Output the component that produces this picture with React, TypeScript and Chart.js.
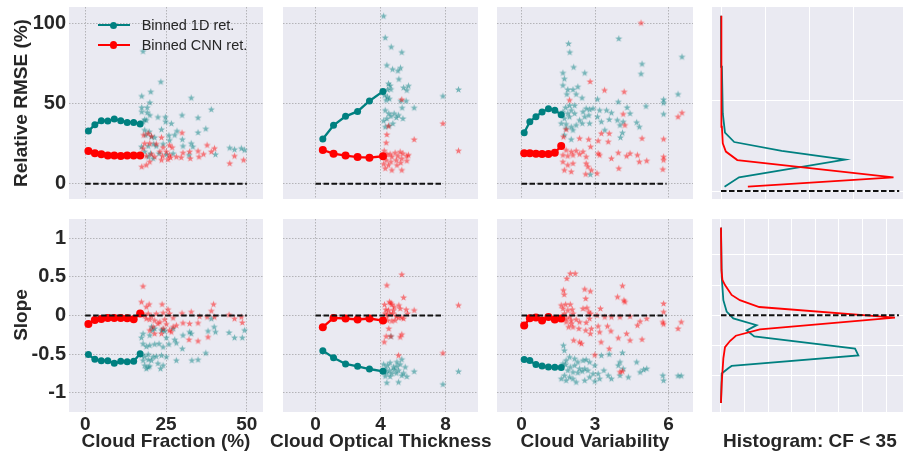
import React, { useEffect, useRef } from "react";
import { Chart, registerables } from "chart.js";
Chart.register(...registerables);

const W = 903;
const H = 452;
const TEAL = "#008080";
const RED = "#ff0000";
const TXT = "#262626";
const FONT = '"Liberation Sans", Arial, sans-serif';

type Pt = [number, number];

// ---------- Binned retrieval curves ----------
const binCF = [1, 3, 5, 7, 9, 11, 13, 15, 17];
const rmse1dCF = [32.8, 36.8, 39.3, 39.1, 40.3, 39.3, 38.2, 38.2, 37.2];
const rmseCnnCF = [20.4, 18.9, 18.3, 17.5, 17.5, 17.2, 17.5, 17.5, 17.5];
const slope1dCF = [-0.506, -0.568, -0.585, -0.585, -0.62, -0.594, -0.598, -0.594, -0.494];
const slopeCnnCF = [-0.109, -0.057, -0.044, -0.031, -0.031, -0.031, -0.035, -0.048, 0.026];

const binCOT = [0.45, 1.11, 1.85, 2.59, 3.32, 4.15];
const rmse1dCOT = [27.9, 36.4, 42.0, 45.1, 51.6, 57.6];
const rmseCnnCOT = [21.0, 18.7, 17.5, 16.6, 16.2, 17.1];
const slope1dCOT = [-0.455, -0.546, -0.628, -0.658, -0.693, -0.723];
const slopeCnnCOT = [-0.152, -0.031, -0.039, -0.052, -0.039, -0.065];

const binCV = [0.11, 0.34, 0.59, 0.84, 1.1, 1.36, 1.62];
const rmse1dCV = [31.8, 38.7, 41.8, 44.7, 46.8, 45.9, 43.0];
const rmseCnnCV = [18.9, 18.9, 18.7, 18.5, 18.5, 19.3, 23.5];
const slope1dCV = [-0.571, -0.584, -0.636, -0.654, -0.667, -0.671, -0.675];
const slopeCnnCV = [-0.13, -0.035, -0.026, -0.065, -0.018, -0.052, -0.039];

// ---------- Individual scenes (stars) ----------
const rmse1dCFPts: Pt[] = [[17.9,82.7],[23.4,63.6],[20.3,57.4],[17.5,54.7],[20.0,50.7],[32.8,53.6],[17.5,47.6],[19.2,47.6],[39.0,46.4],[17.5,44.9],[19.2,44.5],[20.0,42.8],[22.5,41.6],[24.8,41.6],[29.95,42.8],[34.9,41.2],[18.4,40.1],[18.9,39.7],[17.9,38.7],[24.9,38.7],[26.65,37.6],[37.3,34.3],[34.9,32.0],[18.4,33.5],[19.8,32.5],[23.6,33.9],[28.4,32.9],[18.7,30.4],[20.5,29.3],[21.5,28.9],[25.9,30.2],[27.7,30.4],[30.05,27.7],[26.1,27.2],[17.4,23.1],[19.5,23.5],[21.2,24.8],[22.0,23.5],[24.1,24.8],[30.25,23.5],[32.8,25.2],[33.3,23.1],[44.7,22.4],[46.2,21.4],[48.3,22.1],[49.3,21.0],[40.3,18.3],[18.4,20.0],[20.2,18.9],[22.85,18.9],[25.1,18.3],[27.2,18.9],[32.1,17.9],[19.5,16.8],[21.0,15.8]];
const rmseCnnCFPts: Pt[] = [[29.95,31.8],[23.6,28.9],[18.1,30.4],[19.5,31.4],[20.5,29.7],[26.1,24.1],[26.9,22.7],[18.4,25.2],[19.97,25.2],[22.0,24.8],[24.1,22.7],[23.1,20.0],[17.9,22.1],[25.1,20.0],[17.4,17.9],[18.9,17.3],[20.5,18.5],[21.5,16.8],[23.9,17.3],[26.1,17.9],[28.2,16.8],[30.25,19.3],[32.3,20.0],[34.9,20.4],[37.7,24.1],[40.0,22.1],[39.0,20.0],[36.6,18.5],[35.2,16.8],[32.5,15.8],[29.7,16.4],[44.7,12.7],[46.2,17.3],[49.0,14.8],[17.5,10.6],[18.9,11.7],[19.97,13.7],[23.6,14.8],[26.4,16.4],[25.6,15.2]];
const slope1dCFPts: Pt[] = [[20.5,-0.147],[20.8,-0.19],[21.5,-0.168],[23.6,-0.19],[24.1,-0.18],[24.6,-0.2],[27.2,-0.168],[32.3,-0.212],[32.8,-0.234],[30.25,-0.255],[17.9,-0.234],[17.4,-0.286],[19.97,-0.255],[39.0,-0.04],[39.9,-0.147],[38.0,-0.2],[40.3,-0.212],[44.5,-0.22],[49.3,-0.19],[46.2,-0.286],[48.6,-0.286],[27.7,-0.312],[25.1,-0.286],[22.85,-0.365],[19.97,-0.385],[17.9,-0.365],[18.9,-0.4],[21.5,-0.37],[25.9,-0.37],[28.2,-0.355],[24.1,-0.407],[30.05,-0.429],[37.3,-0.485],[17.4,-0.515],[18.4,-0.528],[19.5,-0.502],[21.0,-0.535],[17.9,-0.58],[19.5,-0.572],[20.5,-0.58],[22.0,-0.528],[23.6,-0.515],[25.1,-0.535],[28.2,-0.58],[33.0,-0.58],[34.9,-0.572],[18.4,-0.645],[19.5,-0.667],[19.97,-0.655],[23.3,-0.688],[24.1,-0.645],[22.5,-0.62],[18.9,-0.688]];
const slopeCnnCFPts: Pt[] = [[17.9,0.38],[17.4,0.177],[19.8,0.147],[18.9,0.113],[23.8,0.147],[25.6,0.08],[39.7,0.147],[39.0,0.06],[17.4,0.026],[18.4,0.004],[19.5,0.026],[20.5,-0.01],[22.0,0.026],[24.1,0.035],[26.1,0.026],[29.95,0.03],[32.8,0.048],[35.4,-0.01],[44.5,0.01],[48.3,-0.018],[18.9,-0.04],[19.97,-0.05],[21.5,-0.061],[23.1,-0.083],[24.6,-0.05],[27.2,-0.03],[30.25,-0.096],[32.3,-0.104],[34.9,-0.096],[37.7,-0.018],[40.0,-0.018],[46.2,-0.04],[48.6,-0.09],[21.0,-0.147],[24.1,-0.168],[26.1,-0.19],[27.2,-0.147],[26.65,-0.212],[28.2,-0.126],[32.1,-0.312],[34.9,-0.329],[38.0,-0.277],[22.5,-0.104],[25.1,-0.11],[19.97,-0.19],[21.5,-0.234],[23.6,-0.234]];

const rmse1dCOTPts: Pt[] = [[4.19,104.7],[4.29,91.2],[4.66,85.4],[5.31,82.1],[4.39,74.0],[4.74,71.5],[5.07,70.5],[5.23,72.3],[5.13,65.3],[4.49,62.5],[4.59,61.3],[4.43,58.8],[4.64,59.0],[5.42,60.0],[5.72,61.1],[5.62,58.4],[4.25,55.3],[4.43,54.2],[4.55,53.0],[4.35,52.2],[5.25,51.7],[5.58,51.7],[5.33,47.4],[6.07,47.4],[4.29,45.9],[4.51,43.9],[4.84,43.9],[5.11,42.8],[4.64,42.2],[4.39,40.7],[4.97,41.3],[5.38,40.7],[4.19,39.3],[4.76,37.6],[4.53,36.2],[4.29,35.5],[7.84,54.7],[8.8,58.8]];
const rmseCnnCOTPts: Pt[] = [[5.31,52.6],[7.84,37.6],[4.39,30.7],[4.35,25.6],[6.07,27.6],[8.8,20.6],[4.49,36.0],[4.23,20.6],[4.39,18.5],[4.59,18.5],[4.9,19.3],[5.21,19.9],[5.38,18.9],[4.29,16.8],[4.7,16.8],[5.07,17.3],[5.31,15.8],[5.62,17.3],[4.35,14.7],[4.64,13.7],[4.97,14.7],[5.25,13.1],[5.62,14.3],[4.19,12.3],[4.49,11.6],[5.01,11.6],[4.7,8.5],[5.31,8.5],[4.29,9.6],[5.72,17.9]];
const slope1dCOTPts: Pt[] = [[4.64,-0.268],[5.31,-0.567],[4.19,-0.63],[4.43,-0.645],[4.59,-0.61],[4.8,-0.667],[5.01,-0.655],[5.21,-0.63],[5.52,-0.667],[4.29,-0.688],[4.55,-0.71],[4.84,-0.7],[5.11,-0.71],[5.42,-0.745],[6.07,-0.723],[4.39,-0.74],[4.7,-0.75],[4.97,-0.745],[5.31,-0.775],[5.62,-0.79],[4.29,-0.784],[4.59,-0.79],[5.11,-0.862],[4.39,-0.87],[8.8,-0.723],[7.84,-0.89],[5.01,-0.6]];
const slopeCnnCOTPts: Pt[] = [[5.31,0.532],[4.39,0.393],[5.42,0.234],[4.55,0.177],[4.64,0.164],[4.25,0.143],[4.7,0.143],[4.84,0.112],[5.13,0.134],[5.58,0.078],[6.07,0.069],[4.33,0.078],[4.49,0.069],[4.8,0.069],[5.21,0.091],[5.66,0.026],[4.29,0.026],[4.59,0.02],[4.97,-0.009],[5.31,-0.026],[4.19,-0.039],[4.43,-0.061],[4.7,-0.07],[5.11,-0.026],[5.42,-0.039],[4.39,0.0],[4.76,0.026],[4.9,-0.061],[4.51,-0.169],[4.35,-0.268],[4.64,-0.268],[5.31,-0.243],[5.21,-0.277],[4.23,-0.342],[5.11,-0.515],[7.84,-0.485],[8.8,0.134]];

const rmse1dCVPts: Pt[] = [[1.92,87.5],[1.97,82.1],[3.97,90.6],[6.55,79.2],[2.13,72.8],[2.58,69.2],[1.69,69.2],[1.75,65.5],[2.3,60.5],[1.69,61.5],[1.89,58.8],[2.1,58.8],[1.85,55.9],[2.23,55.9],[2.47,53.6],[4.92,74.8],[4.88,68.6],[6.39,55.9],[5.8,52.6],[5.8,50.5],[5.8,43.5],[3.95,51.1],[5.08,48.4],[4.31,47.6],[4.43,43.9],[3.1,52.8],[1.96,48.9],[2.17,48.9],[1.8,47.6],[2.03,45.9],[2.64,47.0],[2.78,46.4],[2.92,47.0],[3.19,45.9],[3.47,45.9],[3.67,44.3],[1.69,44.9],[1.89,43.9],[2.17,43.9],[2.51,44.9],[1.75,40.8],[1.96,41.8],[2.37,39.7],[2.58,41.8],[2.75,42.8],[3.1,41.8],[3.58,40.1],[3.91,39.7],[4.15,38.7],[4.7,38.3],[4.81,35.5],[1.62,37.7],[1.82,37.2],[2.03,35.5],[2.23,36.6],[2.48,37.7],[2.78,37.7],[3.26,38.7],[1.82,34.5],[2.1,33.5],[3.4,33.5],[4.02,36.6],[4.12,31.8],[1.75,30.4],[2.03,27.7],[4.04,28.9],[2.81,5.8]];
const rmseCnnCVPts: Pt[] = [[4.88,100.4],[2.8,63.8],[3.39,58.4],[4.19,57.4],[1.96,52.2],[1.82,33.9],[1.71,29.3],[2.37,28.3],[2.74,27.7],[3.13,26.8],[3.26,31.4],[3.58,31.4],[3.54,26.2],[2.82,23.1],[4.15,43.5],[4.22,36.6],[6.39,41.8],[6.55,44.3],[4.92,28.3],[5.8,27.9],[1.62,23.1],[1.82,21.0],[2.03,20.0],[2.23,20.6],[2.51,20.0],[1.69,17.9],[1.89,17.3],[2.1,17.9],[2.37,18.5],[2.64,16.8],[3.13,18.9],[3.19,17.9],[3.67,15.8],[3.95,19.3],[4.29,17.3],[4.43,18.9],[4.73,17.9],[4.81,13.7],[5.11,14.3],[5.8,16.8],[5.8,14.8],[1.69,13.7],[1.89,11.7],[2.1,12.7],[1.75,8.5],[2.03,7.5],[2.64,12.7],[2.71,10.6],[2.85,8.5],[2.62,6.0],[3.08,6.5],[3.97,9.6],[5.77,9.0]];
const slope1dCVPts: Pt[] = [[1.71,-0.386],[1.75,-0.451],[1.96,-0.537],[2.17,-0.559],[1.82,-0.58],[2.3,-0.602],[2.51,-0.58],[2.64,-0.57],[2.78,-0.602],[3.26,-0.516],[3.58,-0.5],[4.12,-0.481],[2.99,-0.645],[2.58,-0.688],[2.37,-0.688],[2.17,-0.645],[1.99,-0.667],[1.8,-0.635],[1.69,-0.624],[1.89,-0.71],[2.1,-0.732],[2.3,-0.74],[2.48,-0.72],[2.71,-0.71],[2.92,-0.753],[3.13,-0.753],[1.75,-0.775],[1.96,-0.797],[2.1,-0.818],[1.82,-0.84],[1.62,-0.818],[2.23,-0.862],[2.78,-0.797],[3.19,-0.818],[3.54,-0.775],[3.67,-0.818],[4.02,-0.602],[3.95,-0.645],[4.15,-0.688],[4.36,-0.797],[4.02,-0.775],[4.7,-0.602],[4.84,-0.732],[4.98,-0.7],[5.11,-0.688],[5.77,-0.775],[5.8,-0.84],[6.39,-0.78],[6.52,-0.78],[2.99,-0.85],[2.58,-0.84],[3.36,-0.71]];
const slopeCnnCVPts: Pt[] = [[1.99,0.545],[2.19,0.545],[1.85,0.48],[4.12,0.385],[1.71,0.329],[2.58,0.342],[2.81,0.316],[1.74,0.273],[3.92,0.242],[2.62,0.221],[4.18,0.199],[4.22,0.177],[5.8,0.156],[5.8,0.047],[2.51,0.091],[2.67,0.1],[3.22,0.091],[1.62,0.134],[1.8,0.145],[1.99,0.145],[1.69,0.091],[1.89,0.069],[2.07,0.08],[2.82,0.026],[2.75,0.047],[2.1,0.026],[1.75,0.026],[1.69,-0.018],[1.96,-0.018],[1.62,-0.05],[1.82,-0.039],[2.03,-0.061],[2.23,-0.05],[2.78,-0.039],[3.08,0.004],[3.4,-0.018],[3.67,-0.018],[4.02,-0.018],[4.43,-0.01],[1.82,-0.083],[2.03,-0.104],[2.37,-0.083],[2.64,-0.09],[4.84,-0.075],[5.11,-0.039],[5.77,-0.083],[5.8,-0.11],[4.73,-0.126],[3.13,-0.137],[3.51,-0.137],[2.34,-0.169],[2.62,-0.191],[2.85,-0.169],[1.92,-0.148],[2.1,-0.148],[3.19,-0.213],[2.81,-0.234],[3.65,-0.2],[3.95,-0.29],[4.29,-0.234],[4.92,-0.308],[2.13,-0.32],[2.37,-0.343],[2.45,-0.364],[4.43,-0.32],[3.25,-0.343],[3.58,-0.429],[6.39,-0.169],[6.52,-0.083],[2.99,-0.51],[4.12,-0.72],[4.02,-0.73]];

// ---------- Histograms: [value, density] ----------
const histRmse1d: Pt[] = [[2.4,0.08],[7.6,0.41],[17.4,2.82],[22.3,1.38],[27.2,0.3],[32.4,0.09],[43.1,0.04],[69,0.02],[97.4,0]];
const histRmseCnn: Pt[] = [[2.4,0.61],[7.6,3.92],[17.2,0.37],[21.9,0.11],[26.5,0.04],[35.7,0.02],[50.6,0.015],[69,0.01],[97.4,0]];
const histSlope1d: Pt[] = [[1.16,0],[0.51,0.03],[0.2,0.1],[0.05,0.24],[-0.04,0.52],[-0.13,1.51],[-0.2,1.09],[-0.28,1.41],[-0.44,5.68],[-0.53,5.82],[-0.67,0.45],[-0.7,0.31],[-0.77,0.03],[-1.16,0]];
const histSlopeCnn: Pt[] = [[1.16,0],[0.6,0.02],[0.47,0.06],[0.4,0.17],[0.27,0.45],[0.2,0.8],[0.11,1.62],[-0.03,7.37],[-0.185,1.65],[-0.27,0.63],[-0.34,0.38],[-0.42,0.17],[-0.57,0.1],[-0.9,0.03],[-1.16,0]];

// ---------- tick values ----------
const ticksCF = [0, 25, 50];
const ticksCOT = [0, 4, 8];
const ticksCV = [0, 3, 6];
const ticksRmse = [0, 50, 100];
const ticksSlope = [-1, -0.5, 0, 0.5, 1];
const ticksHistTopX = [0, 1, 2, 3];
const ticksHistTopY = [0, 50];
const ticksHistBotX = [0, 1, 2, 3, 4, 5, 6, 7];
const ticksHistBotY = [-0.8, -0.4, 0, 0.4, 0.8];

// ---------- helpers ----------
const starCache: Record<string, HTMLCanvasElement> = {};
function star(color: string): HTMLCanvasElement {
  if (starCache[color]) return starCache[color];
  const c = document.createElement("canvas");
  c.width = 9;
  c.height = 9;
  const ctx = c.getContext("2d")!;
  ctx.fillStyle = color;
  ctx.beginPath();
  const R = 3.7, r = 1.5, cx = 4.5, cy = 4.8;
  for (let i = 0; i < 10; i++) {
    const a = -Math.PI / 2 + (i * Math.PI) / 5;
    const rad = i % 2 === 0 ? R : r;
    const x = cx + rad * Math.cos(a);
    const y = cy + rad * Math.sin(a);
    if (i === 0) ctx.moveTo(x, y);
    else ctx.lineTo(x, y);
  }
  ctx.closePath();
  ctx.fill();
  starCache[color] = c;
  return c;
}

const lineDs = (xs: number[], ys: number[], color: string, radius: number) => ({
  data: xs.map((x, i) => ({ x, y: ys[i] })),
  showLine: true,
  borderColor: color,
  backgroundColor: color,
  borderWidth: 2.3,
  pointRadius: radius,
  pointHoverRadius: radius,
  pointBorderWidth: 0,
  pointBackgroundColor: color,
});
const starDs = (pts: Pt[], color: string) => ({
  data: pts.map(([x, y]) => ({ x, y })),
  showLine: false,
  pointStyle: star(color),
  pointRadius: 3,
});
const dashDs = (x0: number, x1: number) => ({
  data: [{ x: x0, y: 0 }, { x: x1, y: 0 }],
  showLine: true,
  borderColor: "#111111",
  borderWidth: 2,
  borderDash: [5.5, 2.5],
  pointRadius: 0,
});
const histDs = (pairs: Pt[], color: string) => ({
  data: pairs.map(([v, d]) => ({ x: d, y: v })),
  showLine: true,
  borderColor: color,
  borderWidth: 1.8,
  pointRadius: 0,
});

interface AxisSpec { min: number; max: number; ticks: number[]; labels: boolean; }
interface PanelSpec {
  rect: [number, number, number, number];
  x: AxisSpec;
  y: AxisSpec;
  white: boolean;
  datasets: () => any[];
}

const bgPlugin = {
  id: "axbg",
  beforeDraw(chart: any) {
    const { ctx, chartArea: a } = chart;
    ctx.save();
    ctx.fillStyle = "#EAEAF2";
    ctx.fillRect(a.left, a.top, a.right - a.left, a.bottom - a.top);
    ctx.restore();
  },
};

const Y_AXIS_W = 60;
const X_AXIS_H = 30;

function axis(spec: AxisSpec, isX: boolean, white: boolean) {
  return {
    type: "linear",
    min: spec.min,
    max: spec.max,
    afterBuildTicks: (s: any) => {
      s.ticks = spec.ticks.map((v) => ({ value: v }));
    },
    afterFit: (s: any) => {
      if (isX) s.height = spec.labels ? X_AXIS_H : 0;
      else s.width = spec.labels ? Y_AXIS_W : 0;
      s.paddingTop = 0;
      s.paddingBottom = 0;
      s.paddingLeft = 0;
      s.paddingRight = 0;
    },
    grid: white
      ? { color: "#ffffff", lineWidth: 1, drawTicks: false }
      : { color: "#b4b4b8", lineWidth: 1, drawTicks: false },
    border: { display: false, dash: white ? [] : [1.5, 1.5] },
    ticks: {
      display: spec.labels,
      padding: isX ? 1 : 3,
      autoSkip: false,
      maxRotation: 0,
      color: TXT,
      font: { family: FONT, size: isX ? 19 : 20, weight: "bold" },
      callback: (v: any) => String(v),
    },
  };
}

const COLS: [number, number][] = [[69, 263], [283, 478], [497, 693], [712, 903]];
const ROWS: [number, number][] = [[7, 199], [219, 412]];
const r = (c: number, rw: number): [number, number, number, number] => [COLS[c][0], ROWS[rw][0], COLS[c][1], ROWS[rw][1]];

const yR: AxisSpec = { min: -9.6, max: 110.3, ticks: ticksRmse, labels: false };
const yS: AxisSpec = { min: -1.25, max: 1.25, ticks: ticksSlope, labels: false };

const panels: PanelSpec[] = [
  {
    rect: r(0, 0), white: false,
    x: { min: -5, max: 55, ticks: ticksCF, labels: false }, y: { ...yR, labels: true },
    datasets: () => [dashDs(0, 50), lineDs(binCF, rmse1dCF, TEAL, 3.5), lineDs(binCF, rmseCnnCF, RED, 4), starDs(rmseCnnCFPts, "rgba(255,0,0,0.5)"), starDs(rmse1dCFPts, "rgba(0,128,128,0.5)")],
  },
  {
    rect: r(1, 0), white: false,
    x: { min: -2, max: 10, ticks: ticksCOT, labels: false }, y: yR,
    datasets: () => [dashDs(0, 7.85), lineDs(binCOT, rmse1dCOT, TEAL, 3.5), lineDs(binCOT, rmseCnnCOT, RED, 4), starDs(rmseCnnCOTPts, "rgba(255,0,0,0.5)"), starDs(rmse1dCOTPts, "rgba(0,128,128,0.5)")],
  },
  {
    rect: r(2, 0), white: false,
    x: { min: -1, max: 7, ticks: ticksCV, labels: false }, y: yR,
    datasets: () => [dashDs(0, 5.92), lineDs(binCV, rmse1dCV, TEAL, 3.5), lineDs(binCV, rmseCnnCV, RED, 4), starDs(rmseCnnCVPts, "rgba(255,0,0,0.5)"), starDs(rmse1dCVPts, "rgba(0,128,128,0.5)")],
  },
  {
    rect: r(3, 0), white: true,
    x: { min: -0.205, max: 4.136, ticks: ticksHistTopX, labels: false },
    y: { min: -4.44, max: 102.2, ticks: ticksHistTopY, labels: false },
    datasets: () => [dashDs(0, 4.05), histDs(histRmseCnn, RED), histDs(histRmse1d, TEAL)],
  },
  {
    rect: r(0, 1), white: false,
    x: { min: -5, max: 55, ticks: ticksCF, labels: true }, y: { ...yS, labels: true },
    datasets: () => [dashDs(0, 50), lineDs(binCF, slopeCnnCF, RED, 4), lineDs(binCF, slope1dCF, TEAL, 3.5), starDs(slopeCnnCFPts, "rgba(255,0,0,0.5)"), starDs(slope1dCFPts, "rgba(0,128,128,0.5)")],
  },
  {
    rect: r(1, 1), white: false,
    x: { min: -2, max: 10, ticks: ticksCOT, labels: true }, y: yS,
    datasets: () => [dashDs(0, 7.88), lineDs(binCOT, slopeCnnCOT, RED, 4), lineDs(binCOT, slope1dCOT, TEAL, 3.5), starDs(slopeCnnCOTPts, "rgba(255,0,0,0.5)"), starDs(slope1dCOTPts, "rgba(0,128,128,0.5)")],
  },
  {
    rect: r(2, 1), white: false,
    x: { min: -1, max: 7, ticks: ticksCV, labels: true }, y: yS,
    datasets: () => [dashDs(0, 5.92), lineDs(binCV, slopeCnnCV, RED, 4), lineDs(binCV, slope1dCV, TEAL, 3.5), starDs(slopeCnnCVPts, "rgba(255,0,0,0.5)"), starDs(slope1dCVPts, "rgba(0,128,128,0.5)")],
  },
  {
    rect: r(3, 1), white: true,
    x: { min: -0.381, max: 7.712, ticks: ticksHistBotX, labels: false },
    y: { min: -1.279, max: 1.274, ticks: ticksHistBotY, labels: false },
    datasets: () => [dashDs(0, 7.54), histDs(histSlopeCnn, RED), histDs(histSlope1d, TEAL)],
  },
];

function Panel({ spec }: { spec: PanelSpec }) {
  const ref = useRef<HTMLCanvasElement>(null);
  useEffect(() => {
    const [l, t, rr, b] = spec.rect;
    const yw = spec.y.labels ? Y_AXIS_W : 0;
    const xh = spec.x.labels ? X_AXIS_H : 0;
    const chart = new Chart(ref.current!, {
      type: "scatter",
      data: { datasets: spec.datasets() },
      options: {
        animation: false,
        responsive: false,
        events: [],
        layout: { padding: { left: l - yw, top: t, right: W - rr, bottom: H - b - xh } },
        plugins: { legend: { display: false }, tooltip: { enabled: false } },
        scales: { x: axis(spec.x, true, spec.white), y: axis(spec.y, false, spec.white) },
      } as any,
      plugins: [bgPlugin],
    });
    return () => chart.destroy();
  }, [spec]);
  return <canvas ref={ref} width={W} height={H} style={{ position: "absolute", left: 0, top: 0 }} />;
}

const titleStyle: React.CSSProperties = {
  position: "absolute",
  fontFamily: FONT,
  fontWeight: "bold",
  fontSize: 19,
  lineHeight: 1,
  color: TXT,
  whiteSpace: "nowrap",
};

function XTitle({ text, cx }: { text: string; cx: number }) {
  return <div style={{ ...titleStyle, left: cx, top: 431, transform: "translateX(-50%)" }}>{text}</div>;
}
function YTitle({ text, cy }: { text: string; cy: number }) {
  return (
    <div style={{ ...titleStyle, left: 20.2, top: cy, transform: "translate(-50%, -50%) rotate(-90deg)" }}>{text}</div>
  );
}
function LegendRow({ y, color, r, text }: { y: number; color: string; r: number; text: string }) {
  return (
    <>
      <div style={{ position: "absolute", left: 98, top: y - 1.15, width: 31.5, height: 2.3, background: color }} />
      <div style={{ position: "absolute", left: 113.7 - r, top: y - r, width: 2 * r, height: 2 * r, borderRadius: "50%", background: color }} />
      <div style={{ position: "absolute", left: 141.7, top: y - 7.1, fontFamily: FONT, fontSize: 14.5, lineHeight: 1, color: TXT, whiteSpace: "nowrap" }}>{text}</div>
    </>
  );
}

export default function App() {
  return (
    <div style={{ position: "absolute", left: 0, top: 0, width: W, height: H, overflow: "hidden", background: "#ffffff" }}>
      {panels.map((p, i) => (
        <Panel key={i} spec={p} />
      ))}
      <LegendRow y={25} color={TEAL} r={3.5} text="Binned 1D ret." />
      <LegendRow y={45} color={RED} r={3.8} text="Binned CNN ret." />
      <YTitle text="Relative RMSE (%)" cy={103} />
      <YTitle text="Slope" cy={315.3} />
      <XTitle text="Cloud Fraction (%)" cx={166} />
      <XTitle text="Cloud Optical Thickness" cx={380.8} />
      <XTitle text="Cloud Variability" cx={595} />
      <XTitle text="Histogram: CF < 35" cx={809.9} />
    </div>
  );
}
